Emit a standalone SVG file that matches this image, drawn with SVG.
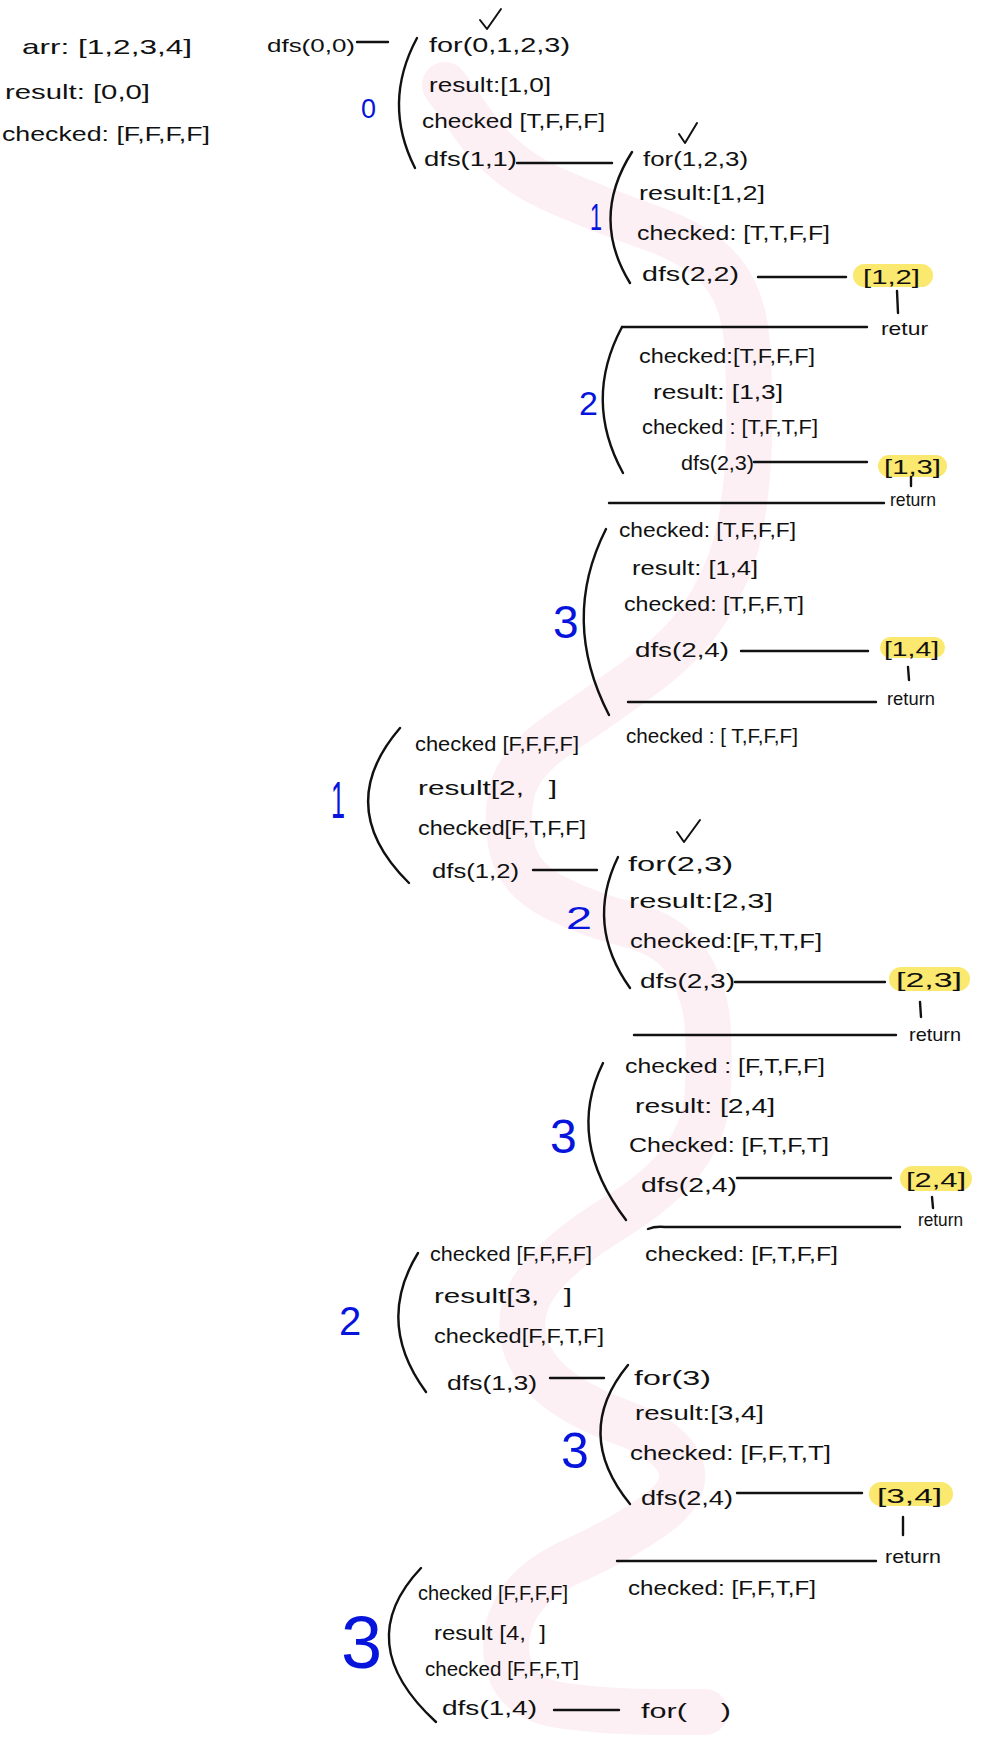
<svg xmlns="http://www.w3.org/2000/svg" width="1000" height="1751" viewBox="0 0 1000 1751">
<style>
text{font-family:"Liberation Sans","DejaVu Sans",sans-serif;fill:#111}
.t{font-size:21px}
.s{font-size:19px}
.b{fill:#0614dc}
.ln{stroke:#111;stroke-width:2.4;fill:none;stroke-linecap:round}
.br{stroke:#111;stroke-width:2.4;fill:none;stroke-linecap:round}
.ck{stroke:#111;stroke-width:2;fill:none;stroke-linecap:round;stroke-linejoin:round}
.hl{fill:#fbe86e}
.band{stroke:#fdf0f5;stroke-width:46;fill:none;stroke-linecap:round;stroke-linejoin:round}
</style>
<rect width="1000" height="1751" fill="#fff"/>
<path class="band" d="M445,85 L470,120 Q500,165 550,188 Q600,210 650,227.5 Q700,245 722.5,272.5 Q745,300 747.5,350 Q750,400 749,440 Q748,480 741.5,520 Q735,560 712.5,600 Q690,640 650,670 Q610,700 565,730 Q520,760 512.5,790 Q505,820 512.5,850 Q520,880 555,897.5 Q590,915 630,925 Q670,935 687.5,962.5 Q705,990 707.5,1025 Q710,1060 707.5,1095 Q705,1130 682.5,1160 Q660,1190 615,1217.5 Q570,1245 545,1272.5 Q520,1300 522.5,1330 Q525,1360 550,1382.5 Q575,1405 622.5,1422.5 Q670,1440 680,1465 Q690,1490 655,1515 Q620,1540 575,1560 Q530,1580 515,1610 Q500,1640 510,1670 Q520,1700 565,1706 Q610,1712 657.5,1712 L705,1712"/>

<g id="legend">
<text class="t" x="22" y="54" textLength="170" lengthAdjust="spacingAndGlyphs">arr: [1,2,3,4]</text>
<text class="t" x="5" y="99" textLength="145" lengthAdjust="spacingAndGlyphs">result: [0,0]</text>
<text class="t" x="2" y="141" textLength="208" lengthAdjust="spacingAndGlyphs">checked: [F,F,F,F]</text>
</g>

<g id="root-call">
<text class="s" x="267" y="52" textLength="88" lengthAdjust="spacingAndGlyphs">dfs(0,0)</text>
</g>

<g id="level0-i0">
<path class="br" d="M417,38 Q382,103 415,168"/>
<text class="b" x="361" y="118" font-size="28" textLength="15" lengthAdjust="spacingAndGlyphs">0</text>
<polyline class="ck" points="480,20 487,29 501,9"/>
<text class="t" x="429" y="52" textLength="141" lengthAdjust="spacingAndGlyphs">for(0,1,2,3)</text>
<text class="t" x="429" y="92" textLength="122" lengthAdjust="spacingAndGlyphs">result:[1,0]</text>
<text class="t" x="422" y="128" textLength="183" lengthAdjust="spacingAndGlyphs">checked [T,F,F,F]</text>
<text class="t" x="424" y="166" textLength="93" lengthAdjust="spacingAndGlyphs">dfs(1,1)</text>
</g>

<g id="level1-i1">
<path class="br" d="M632,152 Q590,218 630,283"/>
<text class="b" x="590" y="230" font-size="36" textLength="12" lengthAdjust="spacingAndGlyphs">1</text>
<polyline class="ck" points="679,134 685,143 697,123"/>
<text class="t" x="643" y="166" textLength="105" lengthAdjust="spacingAndGlyphs">for(1,2,3)</text>
<text class="t" x="639" y="200" textLength="126" lengthAdjust="spacingAndGlyphs">result:[1,2]</text>
<text class="t" x="637" y="240" textLength="193" lengthAdjust="spacingAndGlyphs">checked: [T,T,F,F]</text>
<text class="t" x="642" y="281" textLength="97" lengthAdjust="spacingAndGlyphs">dfs(2,2)</text>
</g>
<g id="result-12">
<rect class="hl" x="853" y="264" width="80" height="23" rx="11.5"/>
<text class="t" x="863" y="284" textLength="57" lengthAdjust="spacingAndGlyphs">[1,2]</text>
<text class="s" x="881" y="335" textLength="47" lengthAdjust="spacingAndGlyphs">retur</text>
</g>

<g id="level1-i2">
<path class="br" d="M622,327 Q583,400 623,473"/>
<text class="b" x="579" y="415" font-size="34">2</text>
<text class="t" x="639" y="363" textLength="176" lengthAdjust="spacingAndGlyphs">checked:[T,F,F,F]</text>
<text class="t" x="653" y="399" textLength="130" lengthAdjust="spacingAndGlyphs">result: [1,3]</text>
<text class="t" x="642" y="434" textLength="176" lengthAdjust="spacingAndGlyphs">checked : [T,F,T,F]</text>
<text class="t" x="681" y="470" textLength="73" lengthAdjust="spacingAndGlyphs">dfs(2,3)</text>
</g>
<g id="result-13">
<rect class="hl" x="878" y="455" width="69" height="22" rx="11"/>
<text class="t" x="884" y="474" textLength="57" lengthAdjust="spacingAndGlyphs">[1,3]</text>
<text class="s" x="890" y="506" textLength="46" lengthAdjust="spacingAndGlyphs">return</text>
</g>

<g id="level1-i3">
<path class="br" d="M606,529 Q560,620 609,715"/>
<text class="b" x="553" y="638" font-size="46">3</text>
<text class="t" x="619" y="537" textLength="177" lengthAdjust="spacingAndGlyphs">checked: [T,F,F,F]</text>
<text class="t" x="632" y="575" textLength="126" lengthAdjust="spacingAndGlyphs">result: [1,4]</text>
<text class="t" x="624" y="611" textLength="180" lengthAdjust="spacingAndGlyphs">checked: [T,F,F,T]</text>
<text class="t" x="635" y="657" textLength="94" lengthAdjust="spacingAndGlyphs">dfs(2,4)</text>
<text class="t" x="626" y="743" textLength="172" lengthAdjust="spacingAndGlyphs">checked : [ T,F,F,F]</text>
</g>
<g id="result-14">
<rect class="hl" x="880" y="637" width="65" height="21" rx="10.5"/>
<text class="t" x="884" y="656" textLength="55" lengthAdjust="spacingAndGlyphs">[1,4]</text>
<text class="s" x="887" y="705" textLength="48" lengthAdjust="spacingAndGlyphs">return</text>
</g>

<g id="level0-i1">
<path class="br" d="M400,728 Q332,807 409,883"/>
<text class="b" x="331" y="818" font-size="52" textLength="14" lengthAdjust="spacingAndGlyphs">1</text>
<text class="t" x="415" y="751" textLength="164" lengthAdjust="spacingAndGlyphs">checked [F,F,F,F]</text>
<text class="t" x="418" y="795" textLength="139" lengthAdjust="spacingAndGlyphs">result[2,&#160;&#160;&#160;]</text>
<text class="t" x="418" y="835" textLength="168" lengthAdjust="spacingAndGlyphs">checked[F,T,F,F]</text>
<text class="t" x="432" y="878" textLength="87" lengthAdjust="spacingAndGlyphs">dfs(1,2)</text>
</g>

<g id="level1b-i2">
<path class="br" d="M618,857 Q585,925 630,988"/>
<text class="b" x="566" y="929" font-size="32" textLength="26" lengthAdjust="spacingAndGlyphs">2</text>
<polyline class="ck" points="677,832 684,842 700,820"/>
<text class="t" x="628" y="871" textLength="105" lengthAdjust="spacingAndGlyphs">for(2,3)</text>
<text class="t" x="629" y="908" textLength="144" lengthAdjust="spacingAndGlyphs">result:[2,3]</text>
<text class="t" x="630" y="948" textLength="192" lengthAdjust="spacingAndGlyphs">checked:[F,T,T,F]</text>
<text class="t" x="640" y="988" textLength="95" lengthAdjust="spacingAndGlyphs">dfs(2,3)</text>
</g>
<g id="result-23">
<rect class="hl" x="889" y="967" width="81" height="24" rx="12"/>
<text class="t" x="896" y="987" textLength="66" lengthAdjust="spacingAndGlyphs">[2,3]</text>
<text class="s" x="909" y="1041" textLength="52" lengthAdjust="spacingAndGlyphs">return</text>
</g>

<g id="level1b-i3">
<path class="br" d="M603,1063 Q565,1140 626,1220"/>
<text class="b" x="550" y="1153" font-size="48">3</text>
<text class="t" x="625" y="1073" textLength="200" lengthAdjust="spacingAndGlyphs">checked : [F,T,F,F]</text>
<text class="t" x="635" y="1113" textLength="140" lengthAdjust="spacingAndGlyphs">result: [2,4]</text>
<text class="t" x="629" y="1152" textLength="200" lengthAdjust="spacingAndGlyphs">Checked: [F,T,F,T]</text>
<text class="t" x="641" y="1192" textLength="96" lengthAdjust="spacingAndGlyphs">dfs(2,4)</text>
<text class="t" x="645" y="1261" textLength="193" lengthAdjust="spacingAndGlyphs">checked: [F,T,F,F]</text>
</g>
<g id="result-24">
<rect class="hl" x="900" y="1166" width="72" height="25" rx="12.5"/>
<text class="t" x="906" y="1187" textLength="60" lengthAdjust="spacingAndGlyphs">[2,4]</text>
<text class="s" x="918" y="1226" textLength="45" lengthAdjust="spacingAndGlyphs">return</text>
</g>

<g id="level0-i2">
<path class="br" d="M418,1253 Q375,1323 426,1392"/>
<text class="b" x="339" y="1335" font-size="40">2</text>
<text class="t" x="430" y="1261" textLength="162" lengthAdjust="spacingAndGlyphs">checked [F,F,F,F]</text>
<text class="t" x="434" y="1303" textLength="138" lengthAdjust="spacingAndGlyphs">result[3,&#160;&#160;&#160;]</text>
<text class="t" x="434" y="1343" textLength="170" lengthAdjust="spacingAndGlyphs">checked[F,F,T,F]</text>
<text class="t" x="447" y="1390" textLength="90" lengthAdjust="spacingAndGlyphs">dfs(1,3)</text>
</g>

<g id="level1c-i3">
<path class="br" d="M628,1365 Q572,1433 630,1504"/>
<text class="b" x="561" y="1468" font-size="50">3</text>
<text class="t" x="634" y="1385" textLength="77" lengthAdjust="spacingAndGlyphs">for(3)</text>
<text class="t" x="635" y="1420" textLength="129" lengthAdjust="spacingAndGlyphs">result:[3,4]</text>
<text class="t" x="630" y="1460" textLength="201" lengthAdjust="spacingAndGlyphs">checked: [F,F,T,T]</text>
<text class="t" x="641" y="1505" textLength="92" lengthAdjust="spacingAndGlyphs">dfs(2,4)</text>
<text class="t" x="628" y="1595" textLength="188" lengthAdjust="spacingAndGlyphs">checked: [F,F,T,F]</text>
</g>
<g id="result-34">
<rect class="hl" x="869" y="1482" width="84" height="24" rx="12"/>
<text class="t" x="877" y="1503" textLength="65" lengthAdjust="spacingAndGlyphs">[3,4]</text>
<text class="s" x="885" y="1563" textLength="56" lengthAdjust="spacingAndGlyphs">return</text>
</g>

<g id="level0-i3">
<path class="br" d="M421,1568 Q350,1643 436,1722"/>
<text class="b" x="341" y="1668" font-size="74">3</text>
<text class="t" x="418" y="1600" textLength="150" lengthAdjust="spacingAndGlyphs">checked [F,F,F,F]</text>
<text class="t" x="434" y="1640" textLength="112" lengthAdjust="spacingAndGlyphs">result [4,&#160;&#160;]</text>
<text class="t" x="425" y="1676" textLength="154" lengthAdjust="spacingAndGlyphs">checked [F,F,F,T]</text>
<text class="t" x="442" y="1715" textLength="95" lengthAdjust="spacingAndGlyphs">dfs(1,4)</text>
</g>
<g id="level1d">
<text class="t" x="641" y="1718" textLength="90" lengthAdjust="spacingAndGlyphs">for(&#160;&#160;&#160;&#160;)</text>
</g>

<g id="connectors">
<line class="ln" x1="357" y1="42" x2="388" y2="42"/>
<line class="ln" x1="517" y1="163" x2="612" y2="163"/>
<line class="ln" x1="758" y1="277" x2="846" y2="277"/>
<line class="ln" x1="897" y1="291" x2="898" y2="313"/>
<line class="ln" x1="622" y1="327" x2="867" y2="327"/>
<line class="ln" x1="754" y1="462" x2="867" y2="462"/>
<line class="ln" x1="911" y1="477" x2="911" y2="486"/>
<line class="ln" x1="609" y1="503" x2="884" y2="503"/>
<line class="ln" x1="741" y1="651" x2="868" y2="651"/>
<line class="ln" x1="908" y1="667" x2="909" y2="680"/>
<line class="ln" x1="628" y1="702" x2="876" y2="702"/>
<line class="ln" x1="533" y1="870" x2="597" y2="870"/>
<line class="ln" x1="735" y1="982" x2="885" y2="982"/>
<line class="ln" x1="920" y1="1002" x2="921" y2="1017"/>
<line class="ln" x1="634" y1="1035" x2="896" y2="1035"/>
<line class="ln" x1="737" y1="1178" x2="891" y2="1178"/>
<line class="ln" x1="932" y1="1197" x2="933" y2="1208"/>
<path class="ln" d="M648,1229 Q655,1226 665,1227 L900,1227"/>
<line class="ln" x1="550" y1="1378" x2="604" y2="1378"/>
<line class="ln" x1="737" y1="1493" x2="862" y2="1493"/>
<line class="ln" x1="903" y1="1517" x2="903" y2="1535"/>
<line class="ln" x1="617" y1="1561" x2="876" y2="1561"/>
<line class="ln" x1="554" y1="1710" x2="619" y2="1710"/>
</g>
</svg>
